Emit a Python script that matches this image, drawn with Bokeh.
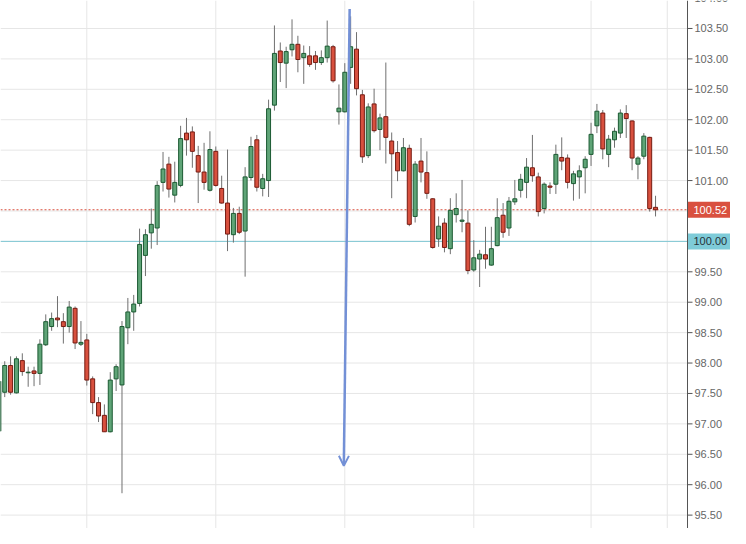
from bokeh.plotting import figure
from bokeh.models import Range1d, Arrow, OpenHead, ColumnDataSource, Span
from bokeh.core.properties import value
from bokeh.embed import file_html
from bokeh.resources import INLINE

opens = [96.88, 97.52, 97.96, 97.51, 98.04, 97.84, 97.87, 97.83, 98.30, 98.60,
         98.74, 98.68, 98.60, 98.90, 98.31, 98.38, 97.74, 97.35, 97.14, 96.87,
         97.74, 97.64, 98.58, 98.84, 98.98, 99.77, 100.14, 100.22, 100.97, 101.27,
         100.76, 100.92, 101.78, 101.80, 101.41, 101.14, 100.84, 101.48, 100.87, 100.63,
         100.11, 100.46, 100.17, 101.05, 101.67, 100.87, 101.00, 102.24, 103.13, 102.93,
         103.15, 103.24, 103.02, 103.05, 103.05, 102.94, 103.02, 103.20, 102.13, 102.13,
         102.86, 103.16, 102.41, 101.41, 102.26, 101.84, 102.05, 101.65, 101.46, 101.16,
         101.53, 100.41, 101.32, 101.13, 100.70, 100.04, 100.30, 99.88, 100.44, 100.33,
         100.30, 99.53, 99.71, 99.78, 99.61, 99.93, 100.43, 100.22, 100.65, 100.84,
         100.97, 101.21, 101.06, 100.54, 100.91, 100.94, 101.38, 101.37, 100.95, 101.06,
         101.21, 101.43, 101.90, 102.11, 101.43, 101.67, 101.78, 102.10, 101.98, 101.27,
         101.40, 101.71, 100.56]
highs = [97.75, 98.03, 98.11, 98.11, 98.16, 97.94, 97.94, 98.39, 98.80, 98.83,
         99.10, 98.82, 99.02, 98.93, 98.69, 98.48, 97.78, 97.44, 97.32, 97.85,
         97.98, 98.69, 99.07, 99.12, 100.21, 100.20, 100.54, 100.99, 101.47, 101.39,
         101.31, 101.90, 102.03, 101.89, 101.57, 101.62, 101.81, 101.56, 101.08, 101.51,
         100.55, 100.57, 101.22, 101.72, 101.75, 101.11, 102.33, 103.55, 103.27, 103.20,
         103.65, 103.38, 103.22, 103.21, 103.13, 103.14, 103.63, 103.23, 102.58, 102.93,
         103.70, 103.44, 102.49, 102.27, 102.51, 102.10, 102.94, 101.79, 101.65, 101.70,
         101.59, 101.32, 101.70, 101.48, 100.71, 100.41, 100.38, 100.71, 100.79, 101.01,
         100.51, 100.02, 99.86, 100.24, 100.24, 100.71, 100.63, 100.73, 101.01, 101.11,
         101.37, 101.75, 101.13, 100.97, 100.97, 101.59, 101.71, 101.43, 101.16, 101.25,
         101.40, 101.95, 102.26, 102.16, 101.75, 101.87, 102.17, 102.24, 101.99, 101.40,
         101.78, 101.72, 100.75]
lows = [96.85, 97.44, 97.48, 97.50, 97.79, 97.61, 97.62, 97.64, 98.28, 98.53,
        98.59, 98.32, 98.50, 98.23, 98.28, 97.63, 97.16, 97.03, 96.87, 96.86,
        97.54, 95.86, 98.31, 98.53, 98.93, 99.43, 99.88, 99.94, 100.82, 100.72,
        100.64, 100.89, 101.41, 101.21, 100.63, 100.85, 100.82, 100.90, 100.62, 99.84,
        99.98, 100.12, 99.42, 101.00, 100.82, 100.74, 100.73, 102.15, 102.62, 102.52,
        103.04, 102.78, 102.59, 102.87, 102.82, 102.90, 102.94, 102.61, 101.92, 102.12,
        102.59, 102.40, 101.29, 101.37, 101.79, 101.50, 101.28, 100.71, 100.99, 101.15,
        100.25, 100.31, 100.97, 100.70, 99.88, 99.91, 99.82, 99.79, 100.31, 100.15,
        99.46, 99.50, 99.25, 99.55, 99.60, 99.92, 100.06, 100.09, 100.60, 100.72,
        100.71, 100.98, 100.41, 100.46, 100.78, 100.78, 101.17, 100.87, 100.67, 100.70,
        100.79, 101.24, 101.78, 101.35, 101.22, 101.54, 101.70, 101.70, 101.17, 101.02,
        101.35, 100.49, 100.41]
closes = [97.70, 97.96, 97.52, 98.07, 97.86, 97.85, 97.83, 98.31, 98.68, 98.73,
          98.71, 98.60, 98.92, 98.33, 98.34, 97.72, 97.35, 97.13, 96.87, 97.72,
          97.94, 98.60, 98.84, 98.97, 99.95, 100.11, 100.28, 100.92, 101.19, 100.86,
          100.97, 101.69, 101.67, 101.48, 101.14, 100.97, 101.51, 100.92, 100.63, 100.12,
          100.46, 100.15, 101.06, 101.56, 100.89, 101.03, 102.18, 103.09, 102.94, 103.12,
          103.24, 102.99, 103.09, 102.91, 102.94, 103.02, 103.21, 102.64, 102.19, 102.78,
          103.20, 102.51, 101.39, 102.21, 101.82, 102.03, 101.71, 101.44, 101.16, 101.54,
          100.28, 101.27, 101.14, 100.79, 99.90, 100.25, 99.90, 100.51, 100.54, 100.35,
          99.52, 99.73, 99.79, 99.71, 99.88, 100.39, 100.15, 100.66, 100.70, 101.02,
          101.22, 101.08, 100.49, 100.94, 100.89, 101.43, 101.32, 100.97, 101.11, 101.16,
          101.35, 101.76, 102.14, 101.52, 101.68, 101.81, 102.11, 102.02, 101.37, 101.37,
          101.73, 100.54, 100.52]

# price axis ticks (every 0.50); 100.00 / 100.50 are hidden under the price tags
y_ticks = [95.5, 96.0, 96.5, 97.0, 97.5, 98.0, 98.5, 99.0, 99.5, 100.0,
           100.5, 101.0, 101.5, 102.0, 102.5, 103.0, 103.5, 104.0]
x_grid = [15, 37, 59, 81, 101, 114]
last_price = 100.52
base_price = 100.00
arrow_x = [59.83, 58.83]
arrow_y = [103.82, 96.31]

# ---- layout (pixels) ----
W, H = 730, 528
AXIS_PX = 687            # x pixel of the price axis line
X0, X_AXIS = 0.28, 117.45
Y0, Y1 = 95.28, 103.96
ux = AXIS_PX / (X_AXIS - X0)      # px per bar
uy = H / (Y1 - Y0)                # px per price unit
X1 = X0 + W / ux
FONT = value("Liberation Sans")
FSIZE = "11px"

p = figure(width=W, height=H, output_backend="svg", toolbar_location=None,
           x_range=Range1d(X0, X1), y_range=Range1d(Y0, Y1),
           x_axis_location=None, y_axis_location=None, min_border=0)
p.outline_line_color = None
p.background_fill_color = "white"
p.border_fill_color = "white"
p.grid.visible = False

GRID = "#e6e6e6"
# horizontal grid lines (stop at the axis)
p.segment(x0=[X0] * len(y_ticks), y0=y_ticks, x1=[X_AXIS] * len(y_ticks), y1=y_ticks,
          line_color=GRID, line_width=1)
# vertical grid lines
p.segment(x0=x_grid, y0=[Y0] * len(x_grid), x1=x_grid, y1=[Y1] * len(x_grid),
          line_color=GRID, line_width=1)

# reference lines
p.segment(x0=[X0], y0=[base_price], x1=[X_AXIS], y1=[base_price],
          line_color="#7ec6d3", line_width=1)
p.segment(x0=[X0], y0=[last_price], x1=[X_AXIS], y1=[last_price],
          line_color="#d9503f", line_width=1, line_dash="2 2")

# candles
idx = list(range(len(opens)))
up = [c >= o for o, c in zip(opens, closes)]
src = ColumnDataSource(dict(
    x=idx, o=opens, h=highs, l=lows, c=closes,
    fill=["#5fa477" if u else "#d8503e" for u in up],
    line=["#1b5a32" if u else "#761b12" for u in up],
))
p.segment(x0="x", y0="l", x1="x", y1="h", source=src, line_color="#707070", line_width=1)
p.vbar(x="x", width=0.68, top="o", bottom="c", source=src,
       fill_color="fill", line_color="line", line_width=1)

# drawn arrow
p.add_layout(Arrow(x_start=arrow_x[0], y_start=arrow_y[0], x_end=arrow_x[1], y_end=arrow_y[1],
                   line_color="#7390d6", line_width=2.5,
                   end=OpenHead(size=10, line_color="#7390d6", line_width=2)))

# price axis (right side)
p.add_layout(Span(location=X_AXIS, dimension="height", line_color="#555555", line_width=1))
tick_len = 5 / ux
p.segment(x0=[X_AXIS] * len(y_ticks), y0=y_ticks, x1=[X_AXIS + tick_len] * len(y_ticks),
          y1=y_ticks, line_color="#555555", line_width=1)
lab_ticks = [t for t in y_ticks if t not in (base_price, 100.5)]
p.text(x=[X_AXIS + 7 / ux] * len(lab_ticks), y=lab_ticks,
       text=["%.2f" % t for t in lab_ticks],
       text_font=FONT, text_font_size=FSIZE,
       text_color="#666666", text_align="left", text_baseline="middle")

# price tags
half = 8 / uy
tag_y = [last_price, base_price]
p.quad(left=[X_AXIS] * 2, right=[X1] * 2,
       bottom=[v - half for v in tag_y], top=[v + half for v in tag_y],
       fill_color=["#d9503f", "#7ecbd8"], line_color=None)
p.text(x=[X_AXIS + 6 / ux] * 2, y=tag_y, text=["%.2f" % v for v in tag_y],
       text_font=FONT, text_font_size=FSIZE,
       text_color=["#ffffff", "#263238"], text_align="left", text_baseline="middle")

open("out.html", "w").write(file_html(p, INLINE))
